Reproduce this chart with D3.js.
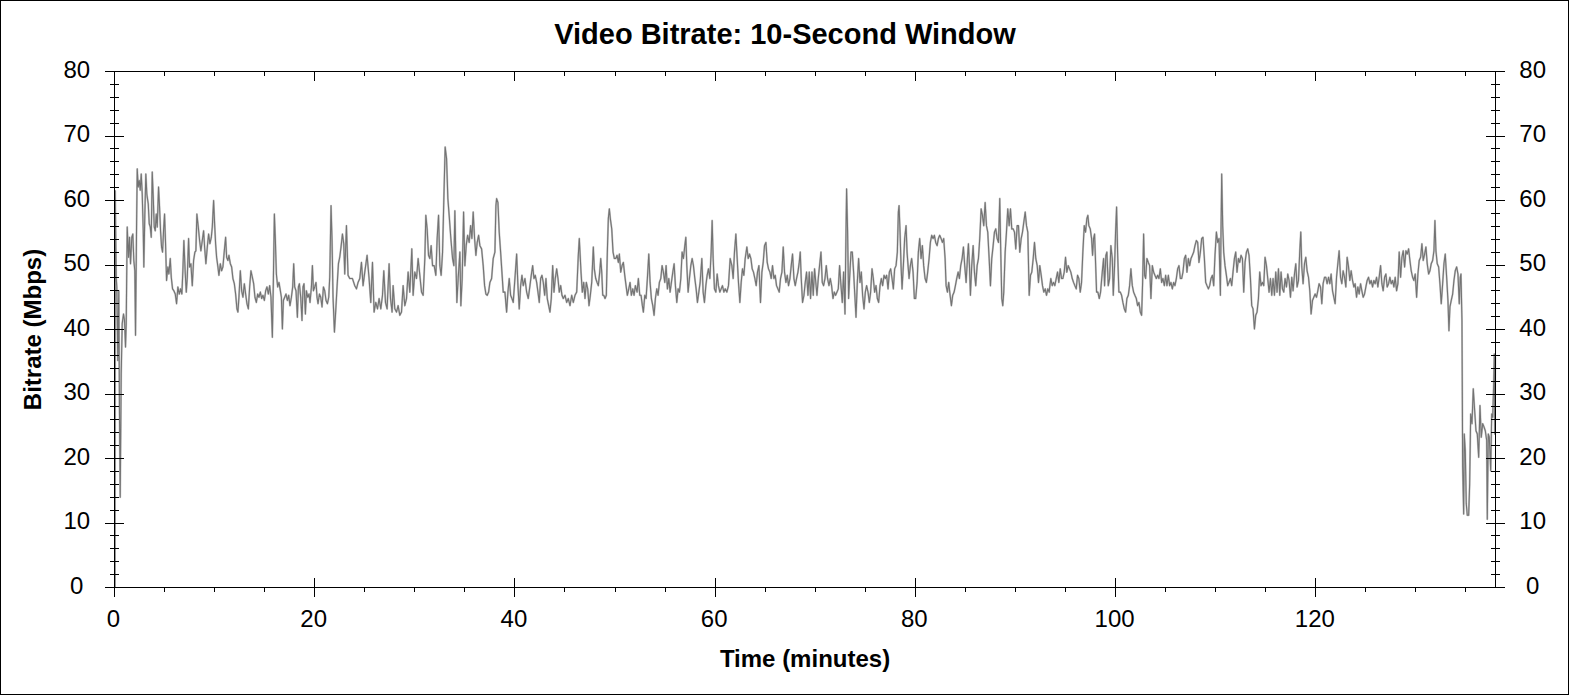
<!DOCTYPE html>
<html><head><meta charset="utf-8">
<script src="https://cdn.jsdelivr.net/npm/d3@7"></script>
<style>body{margin:0;background:#fff}svg{display:block}text{font-family:"Liberation Sans",Arial,sans-serif;fill:#000}</style>
</head><body><svg id="c" width="1570" height="695"></svg>
<script>
const chartTitle = "Video Bitrate: 10-Second Window";
const xLabel = "Time (minutes)";
const yLabel = "Bitrate (Mbps)";
const xTickValues = [0, 20, 40, 60, 80, 100, 120];
const xMinorValues = d3.range(5, 138, 5);
const yTickValues = [0, 10, 20, 30, 40, 50, 60, 70, 80];
const yMinorValues = d3.range(0, 81, 2);
const xDomain = [0, 137.95];
const yDomain = [0, 80];
// [minute, Mbps]
const bitrate = [
[0.05,0],[0.07,61.5],[0.17,48.1],[0.23,46.6],[0.33,35.2],[0.43,46],[0.5,26.9],[0.57,14.0],[0.67,33.1],[0.77,40.9],[0.9,42.4],[1.0,41.4],[1.1,37.3],[1.17,40.9],[1.27,55.9],[1.4,51.2],[1.5,54.3],[1.6,50.2],[1.73,54.3],[1.83,54.8],[1.93,50.7],[2.03,49.1],[2.1,39.1],[2.2,55.3],[2.27,64.9],[2.37,62.1],[2.47,63.1],[2.57,61.6],[2.67,64.1],[2.77,61.0],[2.87,55.3],[2.93,49.7],[3.03,57.9],[3.13,64.1],[3.23,61.0],[3.37,59.5],[3.47,56.4],[3.57,55.9],[3.67,54.3],[3.77,64.4],[3.87,60.5],[3.97,55.9],[4.07,55.3],[4.17,57.9],[4.27,55.9],[4.4,62.1],[4.5,59.0],[4.6,55.3],[4.7,52.8],[4.8,52.0],[4.9,55.3],[5.0,57.9],[5.1,53.3],[5.2,47.6],[5.33,49.7],[5.43,48.6],[5.57,51.0],[5.67,48.1],[5.8,46.3],[5.93,46.0],[6.07,45.5],[6.2,44.0],[6.33,46.6],[6.47,45.5],[6.6,46.3],[6.73,45.5],[6.83,49.1],[6.93,53.8],[7.07,48.6],[7.17,45.8],[7.27,48.1],[7.4,54.1],[7.5,49.7],[7.63,50.2],[7.77,46.8],[7.9,50.7],[8.03,52.0],[8.13,52.2],[8.23,57.9],[8.37,55.9],[8.5,53.8],[8.63,52.2],[8.77,53.8],[8.9,55.3],[9.0,52.8],[9.13,50.2],[9.27,52.8],[9.4,54.8],[9.53,53.3],[9.67,54.3],[9.77,55.9],[9.9,60.0],[10.0,56.4],[10.1,53.3],[10.2,51.2],[10.33,49.7],[10.43,48.4],[10.57,50.2],[10.7,49.1],[10.83,49.7],[10.97,52.2],[11.1,54.3],[11.2,51.2],[11.33,50.7],[11.43,51.5],[11.57,50.2],[11.7,49.7],[11.83,47.9],[11.97,47.1],[12.1,45.5],[12.23,43.2],[12.33,42.7],[12.43,45.0],[12.57,49.1],[12.7,46.0],[12.83,45.0],[12.97,47.1],[13.1,45.5],[13.23,44.0],[13.37,43.2],[13.5,46.6],[13.63,49.1],[13.77,48.1],[13.9,47.1],[14.03,45.0],[14.17,44.2],[14.3,45.5],[14.43,45.0],[14.57,45.8],[14.7,44.8],[14.83,45.3],[14.97,44.5],[15.1,46.0],[15.23,46.6],[15.37,45.5],[15.5,46.8],[15.63,45.0],[15.77,38.8],[15.87,47.6],[15.97,57.9],[16.07,53.8],[16.17,48.6],[16.3,46.6],[16.43,47.3],[16.57,46.0],[16.67,45.0],[16.77,40.1],[16.87,44.5],[17.0,45.0],[17.13,45.5],[17.27,44.5],[17.4,45.3],[17.53,43.7],[17.67,45.0],[17.8,46.6],[17.9,50.2],[18.0,46.6],[18.13,46.0],[18.27,41.9],[18.37,46.6],[18.47,47.1],[18.6,45.0],[18.73,41.4],[18.83,46.6],[18.93,47.1],[19.07,42.4],[19.17,46.0],[19.3,45.0],[19.43,45.5],[19.53,44.2],[19.67,46.6],[19.77,49.9],[19.87,46.0],[20.0,46.6],[20.13,47.3],[20.23,45.0],[20.33,44.0],[20.47,45.5],[20.6,45.0],[20.73,43.5],[20.87,46.6],[21.0,46.0],[21.13,44.5],[21.27,44.0],[21.4,45.0],[21.5,48.1],[21.63,59.2],[21.73,53.8],[21.83,45.0],[21.97,39.6],[22.1,42.9],[22.23,46.6],[22.37,50.2],[22.5,51.2],[22.63,52.8],[22.77,54.8],[22.9,53.3],[23.0,48.6],
[23.17,56.1],[23.33,48.4],[23.5,47.9],[23.77,47.9],[24.0,46.8],[24.17,46.3],[24.33,47.3],[24.5,47.9],[24.67,50.4],[24.83,46.8],[25.0,48.9],[25.23,51.5],[25.43,47.9],[25.6,44.2],[25.77,50.4],[25.93,42.7],[26.1,44.2],[26.27,43.2],[26.43,44.8],[26.6,43.2],[26.77,45.3],[26.9,49.1],[27.07,44.2],[27.23,43.2],[27.43,50.2],[27.57,44.8],[27.73,42.7],[27.83,46.8],[28.0,43.2],[28.17,42.7],[28.33,43.7],[28.5,42.2],[28.67,42.7],[28.83,46.8],[29.0,43.7],[29.17,44.8],[29.33,48.9],[29.5,45.8],[29.7,52.5],[29.83,45.3],[30.0,48.9],[30.17,47.9],[30.33,51.0],[30.5,48.4],[30.67,45.8],[30.83,45.3],[31.0,51.0],[31.1,57.7],[31.23,55.6],[31.37,51.5],[31.5,51.0],[31.63,53.0],[31.77,49.9],[31.93,49.9],[32.1,48.4],[32.23,54.1],[32.37,57.7],[32.5,49.9],[32.63,48.4],[32.77,52.0],[32.9,60.3],[33.03,68.3],[33.17,66.5],[33.3,60.3],[33.43,57.7],[33.6,54.1],[33.77,51.0],[33.9,49.9],[34.0,58.4],[34.1,51.0],[34.2,44.2],[34.33,47.9],[34.5,52.0],[34.6,43.7],[34.73,47.9],[34.87,58.2],[35.0,49.9],[35.13,53.0],[35.27,54.6],[35.43,53.5],[35.57,56.1],[35.7,54.1],[35.83,58.2],[35.97,54.1],[36.1,51.5],[36.23,53.5],[36.37,54.6],[36.5,53.0],[36.67,52.5],[36.83,49.9],[36.97,46.8],[37.1,45.5],[37.23,45.3],[37.37,45.8],[37.5,47.3],[37.67,47.9],[37.83,51.0],[38.0,52.0],[38.1,59.2],[38.17,60.3],[38.3,59.7],[38.43,55.1],[38.57,52.0],[38.7,48.9],[38.83,45.8],[39.0,45.8],[39.17,42.7],[39.3,45.8],[39.43,47.9],[39.57,45.3],[39.7,44.8],[39.83,44.2],[40.0,47.9],[40.17,51.7],[40.3,46.8],[40.43,43.2],[40.57,46.8],[40.7,48.4],[40.83,46.8],[41.0,47.9],[41.17,45.8],[41.33,44.8],[41.5,46.8],[41.63,48.4],[41.77,49.9],[41.9,47.9],[42.03,48.4],[42.17,47.3],[42.3,45.8],[42.43,44.2],[42.57,47.9],[42.7,48.4],[42.83,47.3],[42.97,45.3],[43.1,47.9],[43.23,44.8],[43.37,43.7],[43.5,42.7],[43.63,44.8],[43.77,49.9],[43.9,45.8],[44.03,47.9],[44.17,49.4],[44.3,47.9],[44.43,45.8],[44.57,46.8],[44.7,45.3],[44.83,44.8],[45.0,45.3],[45.17,44.2],[45.33,44.8],[45.5,43.7],[45.67,45.3],[45.83,44.2],[46.0,45.3],[46.17,45.8],[46.33,51.5],[46.43,54.1],
[46.6,48.9],[46.73,45.8],[46.87,47.3],[47.0,44.8],[47.13,47.3],[47.27,46.3],[47.4,43.7],[47.53,45.3],[47.67,47.3],[47.83,52.8],[47.93,49.4],[48.07,47.9],[48.2,47.3],[48.33,46.8],[48.47,48.9],[48.57,51.0],[48.67,48.9],[48.77,45.3],[48.87,45.3],[49.0,44.8],[49.13,45.3],[49.23,52.0],[49.33,57.2],[49.43,58.7],[49.53,57.2],[49.67,55.6],[49.8,52.0],[49.93,51.0],[50.07,51.0],[50.2,51.5],[50.33,50.4],[50.43,51.7],[50.57,48.9],[50.7,49.9],[50.83,50.4],[50.97,48.4],[51.1,46.8],[51.23,45.3],[51.37,46.3],[51.5,47.3],[51.63,45.3],[51.77,46.3],[51.9,45.3],[52.03,46.8],[52.2,45.8],[52.33,47.9],[52.47,45.3],[52.6,45.3],[52.73,43.7],[52.83,42.7],[52.97,45.3],[53.1,44.8],[53.23,47.9],[53.37,51.7],[53.5,47.3],[53.63,44.8],[53.77,43.7],[53.9,42.2],[54.03,44.8],[54.17,46.3],[54.3,45.3],[54.43,47.3],[54.57,47.9],[54.7,49.9],[54.83,48.9],[54.97,47.3],[55.1,49.9],[55.23,46.3],[55.37,47.9],[55.5,45.8],[55.63,47.3],[55.77,48.9],[55.9,50.2],[56.03,46.8],[56.17,44.2],[56.3,46.3],[56.43,45.8],[56.57,47.9],[56.7,52.0],[56.83,51.0],[56.97,53.0],[57.07,54.3],[57.17,49.9],[57.3,45.8],[57.43,47.9],[57.57,49.9],[57.7,51.0],[57.83,49.9],[57.97,47.9],[58.1,46.3],[58.23,44.2],[58.37,45.8],[58.5,47.3],[58.67,51.0],[58.8,45.8],[58.93,44.2],[59.07,46.8],[59.2,48.4],[59.33,49.4],[59.47,47.9],[59.6,52.0],[59.7,56.9],[59.8,51.0],[59.93,46.3],[60.07,45.8],[60.2,48.6],[60.33,46.8],[60.47,45.8],[60.6,46.3],[60.73,46.8],[60.87,45.8],[61.0,46.3],[61.17,45.8],[61.33,46.8],[61.5,51.0],[61.67,49.9],[61.8,47.9],[61.93,52.0],[62.07,54.8],[62.2,51.0],[62.33,47.3],[62.47,44.2],[62.6,47.3],[62.73,49.4],[62.87,48.4],[63.0,51.0],[63.17,52.8],[63.3,51.0],[63.43,51.7],[63.57,51.0],[63.7,49.4],[63.83,48.9],[63.97,47.9],[64.1,46.8],[64.23,48.9],[64.37,49.9],[64.53,44.2],[64.67,48.9],[64.8,50.4],[64.93,53.0],[65.07,53.5],[65.2,50.4],[65.33,49.4],[65.47,48.9],[65.6,47.9],[65.73,49.9],[65.87,47.9],[66.0,48.4],[66.13,46.8],[66.27,46.3],[66.4,45.8],[66.53,47.9],[66.67,48.9],[66.8,52.8],[66.93,48.9],[67.07,47.3],[67.2,48.4],[67.33,46.8],[67.47,47.9],[67.6,49.9],[67.73,51.7],[67.87,47.9],[68.0,46.8],[68.13,47.9],[68.27,48.9],[68.4,50.4],[68.5,52.0],[68.6,47.9],[68.73,44.2],[68.87,45.3],[69.0,47.3],[69.13,48.9],[69.27,45.3],[69.4,48.9],[69.53,44.8],[69.67,48.9],[69.8,45.3],[69.93,49.4],
[70.17,45.3],[70.3,47.9],[70.43,49.9],[70.57,52.0],[70.7,47.3],[70.83,46.8],[70.97,47.9],[71.1,49.9],[71.23,47.9],[71.37,46.8],[71.5,47.9],[71.63,46.8],[71.77,44.8],[71.9,45.8],[72.03,45.3],[72.17,45.8],[72.3,46.3],[72.43,49.9],[72.57,46.8],[72.7,44.2],[72.83,48.9],[72.97,42.4],[73.07,55.1],[73.13,61.8],[73.23,55.1],[73.33,44.8],[73.43,47.9],[73.57,52.0],[73.7,52.0],[73.83,48.9],[73.97,44.8],[74.07,41.9],[74.2,47.3],[74.33,51.0],[74.47,47.3],[74.6,48.9],[74.73,45.3],[74.87,43.2],[75.0,45.8],[75.13,46.8],[75.27,45.8],[75.4,44.2],[75.53,45.8],[75.67,49.4],[75.8,47.9],[75.93,45.8],[76.07,46.8],[76.2,44.8],[76.33,44.2],[76.47,46.8],[76.6,47.9],[76.73,46.8],[76.87,48.4],[77.0,47.9],[77.13,48.4],[77.27,46.3],[77.4,48.9],[77.53,49.4],[77.67,47.9],[77.8,46.3],[77.93,49.4],[78.07,49.9],[78.2,52.0],[78.3,58.2],[78.37,59.2],[78.47,55.1],[78.57,49.9],[78.67,46.3],[78.8,49.9],[78.93,54.1],[79.07,56.1],[79.17,52.0],[79.27,49.9],[79.37,47.9],[79.5,49.9],[79.63,51.0],[79.77,48.9],[79.9,44.8],[80.03,44.8],[80.17,47.3],[80.3,52.0],[80.43,54.1],[80.57,51.0],[80.7,53.0],[80.83,49.9],[80.97,47.9],[81.1,47.3],[81.23,48.9],[81.37,51.0],[81.5,53.5],[81.63,54.6],[81.77,54.1],[81.9,54.6],[82.03,53.5],[82.17,53.0],[82.3,54.1],[82.43,54.6],[82.57,54.1],[82.7,53.5],[82.83,54.1],[82.97,51.0],[83.07,46.8],[83.2,45.8],[83.33,47.3],[83.47,45.3],[83.6,43.7],[83.73,45.3],[83.87,45.8],[84.0,46.8],[84.13,47.9],[84.27,48.9],[84.4,47.9],[84.53,49.9],[84.67,51.0],[84.8,52.8],[84.93,49.9],[85.07,47.3],[85.2,51.0],[85.3,53.3],[85.4,49.9],[85.5,45.3],[85.63,49.9],[85.77,53.0],[85.9,48.9],[86.03,46.8],[86.17,49.9],[86.3,51.0],[86.43,54.1],[86.57,58.7],[86.7,57.7],[86.83,56.1],[86.97,59.7],[87.1,56.1],[87.23,55.1],[87.37,51.0],[87.5,46.8],[87.63,51.0],[87.77,53.0],[87.9,55.1],[88.03,55.6],[88.17,54.1],[88.3,53.5],[88.43,60.3],[88.53,52.0],[88.63,44.8],[88.73,43.7],[88.83,45.8],[88.97,52.0],[89.1,55.1],[89.23,58.7],[89.37,56.1],[89.5,58.7],[89.63,55.6],[89.77,55.6],[89.9,55.1],[90.03,52.5],[90.17,56.1],[90.3,56.1],[90.43,52.0],[90.57,54.1],[90.7,55.1],[90.83,56.6],[90.97,58.2],[91.1,56.1],[91.23,55.1],[91.37,45.3],[91.5,48.4],[91.63,48.9],[91.77,51.0],[91.9,53.5],[92.03,51.0],[92.17,49.9],[92.3,47.3],[92.43,49.9],[92.57,48.4],[92.7,46.8],[92.83,45.8],[92.97,46.3],[93.1,45.3],[93.23,46.3],[93.37,45.8],
[93.4,46.3],[93.53,47.9],[93.67,46.8],[93.8,47.3],[93.93,46.8],[94.07,47.9],[94.2,48.9],[94.33,47.3],[94.47,49.4],[94.6,47.9],[94.73,47.9],[94.87,48.9],[95.0,51.2],[95.13,48.9],[95.27,49.9],[95.4,49.4],[95.53,48.9],[95.67,47.9],[95.8,47.3],[95.93,46.8],[96.07,46.3],[96.2,48.4],[96.33,47.9],[96.47,45.8],[96.6,47.3],[96.73,52.0],[96.87,56.1],[97.0,55.1],[97.13,57.2],[97.23,57.7],[97.33,56.1],[97.47,55.6],[97.6,54.1],[97.7,51.5],[97.8,54.1],[97.9,54.8],[98.0,50.4],[98.1,45.8],[98.23,45.8],[98.37,44.8],[98.5,45.8],[98.67,48.9],[98.8,51.0],[98.9,46.8],[99.03,51.5],[99.13,52.0],[99.27,46.8],[99.4,47.9],[99.53,53.0],[99.67,51.0],[99.77,45.3],[99.9,49.9],[100.0,55.1],[100.1,59.0],[100.2,52.0],[100.33,45.8],[100.47,45.8],[100.6,45.3],[100.73,44.2],[100.87,43.2],[101.0,42.7],[101.13,44.8],[101.27,45.3],[101.4,46.8],[101.53,49.4],[101.67,46.8],[101.8,45.8],[101.93,45.3],[102.07,44.8],[102.2,43.7],[102.33,44.2],[102.47,42.7],[102.6,42.2],[102.7,47.3],[102.8,54.8],[102.9,48.4],[103.0,47.9],[103.13,51.0],[103.27,50.4],[103.4,49.9],[103.53,44.8],[103.67,49.9],[103.8,48.9],[103.93,48.4],[104.07,47.9],[104.2,48.4],[104.33,47.9],[104.47,49.4],[104.6,47.3],[104.73,47.9],[104.87,46.8],[105.0,48.4],[105.13,46.8],[105.27,48.4],[105.4,46.8],[105.53,47.3],[105.67,46.3],[105.8,47.3],[105.93,46.8],[106.07,47.9],[106.2,49.4],[106.33,49.9],[106.47,47.9],[106.6,47.9],[106.73,48.9],[106.87,51.0],[107.0,51.5],[107.13,48.9],[107.27,51.0],[107.4,49.9],[107.53,51.0],[107.67,51.5],[107.8,52.0],[107.93,53.0],[108.07,53.8],[108.2,53.5],[108.33,50.4],[108.47,52.0],[108.6,54.1],[108.73,54.3],[108.87,51.0],[109.0,47.3],[109.13,46.8],[109.27,46.3],[109.4,46.8],[109.53,47.9],[109.67,48.4],[109.8,46.8],[109.93,51.5],[110.07,55.1],[110.2,53.5],[110.33,54.1],[110.47,45.3],[110.53,55.1],[110.6,64.1],[110.7,56.1],[110.8,52.0],[110.93,49.9],[111.07,48.4],[111.2,46.8],[111.33,47.3],[111.47,47.9],[111.6,46.8],[111.73,48.9],[111.87,51.0],[112.0,52.0],[112.13,48.9],[112.27,51.0],[112.4,50.4],[112.53,51.5],[112.67,51.0],[112.8,45.8],[112.93,50.4],[113.07,52.0],[113.2,52.5],[113.33,51.5],[113.47,47.9],[113.6,43.7],[113.73,43.2],[113.87,40.1],[114.0,42.2],[114.13,42.7],[114.27,44.8],[114.4,48.9],[114.53,46.8],[114.67,47.3],[114.8,46.8],[114.93,51.2],[115.07,49.9],[115.2,47.9],[115.33,45.8],[115.47,47.9],[115.6,45.3],[115.73,47.9],[115.87,45.3],[116.0,48.9],[116.13,45.8],[116.27,49.4],[116.4,45.3],[116.53,48.9],[116.67,46.3],[116.8,45.8],[116.93,47.9],
[117.07,46.6],[117.2,48.6],[117.33,47.6],[117.47,45.0],[117.6,48.1],[117.73,46.0],[117.87,48.6],[118.0,50.2],[118.13,46.6],[118.27,47.6],[118.4,52.2],[118.5,55.1],[118.6,49.7],[118.73,47.1],[118.87,50.2],[119.0,51.2],[119.13,49.1],[119.27,48.1],[119.4,46.0],[119.53,42.4],[119.67,44.5],[119.8,45.0],[119.93,45.5],[120.07,45.0],[120.2,46.0],[120.33,47.1],[120.47,46.6],[120.6,44.0],[120.73,47.1],[120.87,48.1],[121.0,48.1],[121.13,47.1],[121.27,48.1],[121.4,47.1],[121.53,48.6],[121.67,46.0],[121.8,45.0],[121.93,44.0],[122.07,48.1],[122.2,50.2],[122.33,52.2],[122.47,48.1],[122.6,47.1],[122.73,49.1],[122.87,48.1],[123.0,46.6],[123.13,51.2],[123.27,49.7],[123.4,47.6],[123.53,49.1],[123.67,47.6],[123.8,46.6],[123.93,47.1],[124.07,45.0],[124.2,46.6],[124.33,45.5],[124.47,47.1],[124.6,46.0],[124.73,45.0],[124.87,45.5],[125.0,46.6],[125.13,47.6],[125.27,48.1],[125.4,47.1],[125.53,47.6],[125.67,46.6],[125.8,47.6],[125.93,47.1],[126.07,48.1],[126.2,46.6],[126.33,48.1],[126.47,49.9],[126.6,47.1],[126.73,46.0],[126.87,48.1],[127.0,48.6],[127.13,46.6],[127.27,47.1],[127.4,48.1],[127.53,47.1],[127.67,47.6],[127.8,46.6],[127.93,48.1],[128.07,46.0],[128.2,47.1],[128.33,52.0],[128.47,48.1],[128.6,51.2],[128.73,52.2],[128.87,49.7],[129.0,52.2],[129.13,51.7],[129.27,52.5],[129.4,50.7],[129.53,49.1],[129.67,48.1],[129.8,47.6],[129.93,48.6],[130.07,45.0],[130.2,48.6],[130.33,50.7],[130.47,51.2],[130.6,53.3],[130.73,50.7],[130.87,51.7],[131.0,52.8],[131.13,50.2],[131.27,48.6],[131.4,49.1],[131.53,50.2],[131.67,50.7],[131.8,52.2],[131.9,56.9],[132.0,52.2],[132.13,50.2],[132.27,49.7],[132.4,47.1],[132.53,44.0],[132.67,47.1],[132.8,50.2],[132.93,51.7],[133.07,48.1],[133.2,44.5],[133.3,39.8],[133.4,43.5],[133.53,44.5],[133.67,45.5],[133.8,47.6],[133.93,49.1],[134.07,49.7],[134.2,48.6],[134.33,44.0],[134.43,48.1],[134.5,48.6],[134.6,41.4],[134.67,18.7],[134.77,11.4],[134.83,23.8],[134.93,21.2],[135.03,13.0],[135.13,11.2],[135.27,11.2],[135.37,16.1],[135.47,26.9],[135.6,25.4],[135.73,30.8],[135.87,27.4],[136.0,24.3],[136.13,23.8],[136.27,20.2],[136.4,28.2],[136.53,23.3],[136.67,25.4],[136.8,24.9],[136.93,24.3],[137.07,22.8],[137.13,10.6],[137.23,23.8],[137.33,23.3],[137.47,18.1],[137.57,26.9],[137.67,26.4],[137.77,31.6],[137.83,36.2],[137.88,23.8],[137.93,35.7]
];

const W = 1570, H = 695;
const plot = {left: 114.5, right: 1495.5, top: 71.5, bottom: 587.5};
const svg = d3.select("#c");
svg.append("rect").attr("width", W).attr("height", H).attr("fill", "#fff");
svg.append("rect").attr("x", 0.5).attr("y", 0.5).attr("width", 1568).attr("height", 694)
  .attr("fill", "none").attr("stroke", "#000").attr("stroke-width", 1);

const x = d3.scaleLinear().domain(xDomain).range([plot.left, plot.right]);
const y = d3.scaleLinear().domain(yDomain).range([plot.bottom, plot.top]);

// data line
const line = d3.line().x(d => x(d[0])).y(d => y(d[1]));
svg.append("path").datum(bitrate).attr("d", line)
  .attr("fill", "none").attr("stroke", "#c8c8c8").attr("stroke-width", 2).attr("stroke-linejoin", "round");
svg.append("path").datum(bitrate).attr("d", line)
  .attr("fill", "none").attr("stroke", "#737373").attr("stroke-width", 1.1).attr("stroke-linejoin", "round");

// frame
svg.append("rect").attr("x", plot.left).attr("y", plot.top)
  .attr("width", plot.right - plot.left).attr("height", plot.bottom - plot.top)
  .attr("fill", "none").attr("stroke", "#000").attr("stroke-width", 1);

const g = svg.append("g").attr("stroke", "#000").attr("stroke-width", 1).attr("shape-rendering", "crispEdges");
const snap = v => Math.round(v - 0.5) + 0.5;
const majorY = new Set(yTickValues);
yMinorValues.forEach(v => {
  const yy = snap(y(v));
  const len = majorY.has(v) ? 9.5 : 4.5;
  g.append("line").attr("x1", plot.left - len).attr("x2", plot.left + len).attr("y1", yy).attr("y2", yy);
  g.append("line").attr("x1", plot.right - len).attr("x2", plot.right + len).attr("y1", yy).attr("y2", yy);
});
const majorX = new Set(xTickValues);
xMinorValues.filter(v => !majorX.has(v)).forEach(v => {
  const xx = snap(x(v));
  g.append("line").attr("x1", xx).attr("x2", xx).attr("y1", plot.bottom).attr("y2", plot.bottom + 4.5);
  g.append("line").attr("x1", xx).attr("x2", xx).attr("y1", plot.top).attr("y2", plot.top + 4);
});
xTickValues.forEach(v => {
  const xx = snap(x(v));
  g.append("line").attr("x1", xx).attr("x2", xx).attr("y1", plot.bottom - 9.5).attr("y2", plot.bottom + 9.5);
  g.append("line").attr("x1", xx).attr("x2", xx).attr("y1", plot.top).attr("y2", plot.top + 9.5);
});

// tick labels
const lab = svg.append("g").style("font-size", "24px");
yTickValues.forEach(v => {
  lab.append("text").attr("x", plot.left - 37.7).attr("y", y(v) + 6).attr("text-anchor", "middle").text(v);
  lab.append("text").attr("x", plot.right + 37.2).attr("y", y(v) + 6).attr("text-anchor", "middle").text(v);
});
xTickValues.forEach(v => {
  lab.append("text").attr("x", x(v) - 1).attr("y", 627).attr("text-anchor", "middle").text(v);
});

// titles
svg.append("text").attr("x", 785).attr("y", 44).attr("text-anchor", "middle")
  .style("font-size", "29px").style("font-weight", "bold").text(chartTitle);
svg.append("text").attr("x", (plot.left + plot.right) / 2).attr("y", 667).attr("text-anchor", "middle")
  .style("font-size", "24px").style("font-weight", "bold").text(xLabel);
svg.append("text").attr("transform", `translate(41,${(plot.top + plot.bottom) / 2}) rotate(-90)`)
  .attr("text-anchor", "middle").style("font-size", "24px").style("font-weight", "bold").text(yLabel);
</script></body></html>
